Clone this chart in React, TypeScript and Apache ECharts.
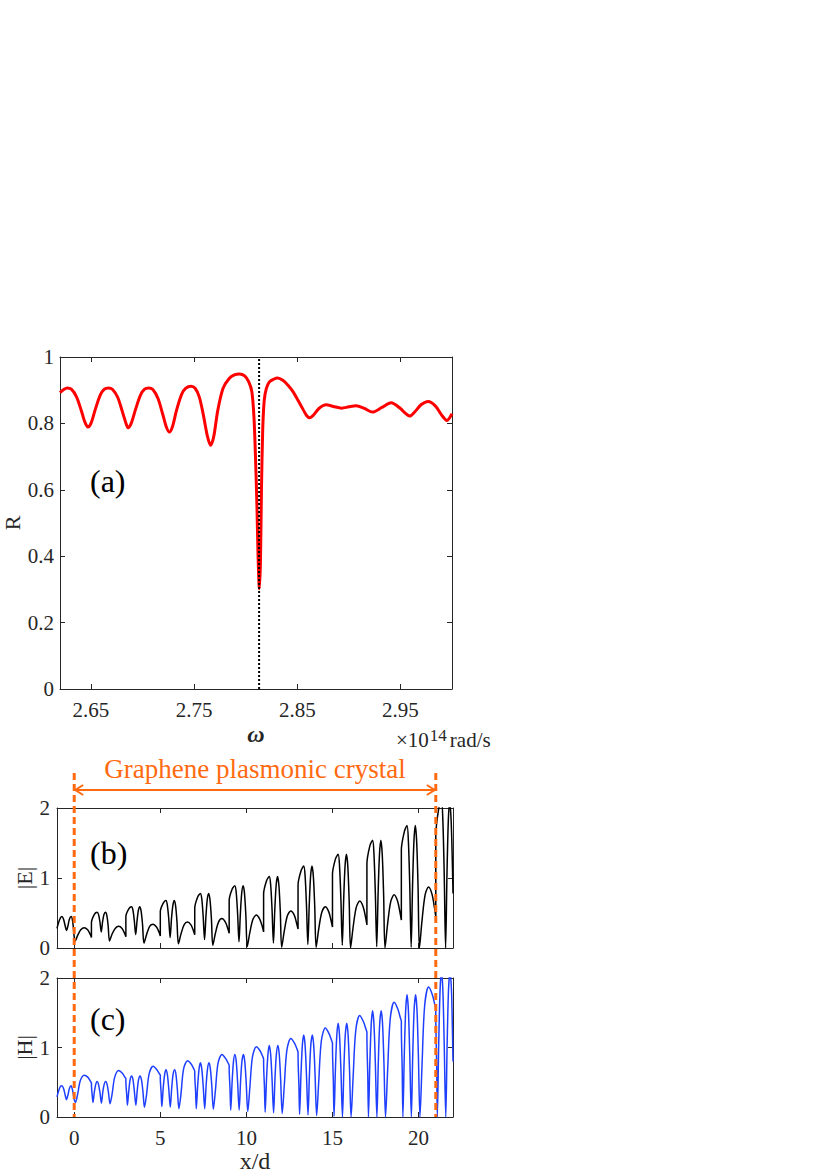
import React, { useEffect, useRef } from "react";
import * as echarts from "echarts";

// ---------- panel (a): reflectance spectrum ----------
const omegaTicks = [2.65, 2.75, 2.85, 2.95];
const rTicks = [0, 0.2, 0.4, 0.6, 0.8, 1];
const dipOmega = 2.813;
const rData: [number, number][] = [
  [2.62, 0.893], [2.624, 0.903], [2.627, 0.907], [2.631, 0.903], [2.636, 0.88], [2.641, 0.835],
  [2.644, 0.805], [2.647, 0.789], [2.65, 0.8], [2.654, 0.84], [2.659, 0.885], [2.663, 0.903],
  [2.667, 0.907], [2.671, 0.902], [2.676, 0.878], [2.681, 0.83], [2.684, 0.8], [2.686, 0.787],
  [2.689, 0.8], [2.693, 0.84], [2.698, 0.885], [2.702, 0.903], [2.706, 0.907], [2.71, 0.902],
  [2.715, 0.875], [2.72, 0.823], [2.723, 0.79], [2.726, 0.774], [2.729, 0.79], [2.733, 0.84],
  [2.738, 0.888], [2.742, 0.906], [2.747, 0.912], [2.751, 0.906], [2.755, 0.88], [2.759, 0.825],
  [2.763, 0.76], [2.766, 0.734], [2.769, 0.76], [2.773, 0.84], [2.778, 0.905], [2.784, 0.935],
  [2.789, 0.946], [2.794, 0.949], [2.799, 0.943], [2.803, 0.925], [2.806, 0.895], [2.808, 0.82],
  [2.8095, 0.7], [2.811, 0.54], [2.812, 0.4], [2.8133, 0.302], [2.8143, 0.38], [2.8153, 0.6],
  [2.8165, 0.78], [2.818, 0.87], [2.82, 0.905], [2.823, 0.925], [2.827, 0.933], [2.831, 0.937],
  [2.836, 0.93], [2.841, 0.915], [2.846, 0.895], [2.851, 0.868], [2.856, 0.84], [2.859, 0.824],
  [2.862, 0.817], [2.866, 0.826], [2.871, 0.845], [2.878, 0.856], [2.885, 0.851], [2.893, 0.846],
  [2.9, 0.85], [2.907, 0.853], [2.915, 0.845], [2.923, 0.834], [2.932, 0.848], [2.941, 0.862],
  [2.95, 0.845], [2.955, 0.83], [2.959, 0.822], [2.964, 0.835], [2.97, 0.856], [2.977, 0.866],
  [2.984, 0.852], [2.99, 0.825], [2.995, 0.809], [3.0, 0.829],
];

// ---------- panels (b), (c): field profiles ----------
const xTicks = [0, 5, 10, 15, 20];
const fieldTicks = [0, 1, 2];
const crystalStart = 0;
const crystalEnd = 21;

const eData: [number, number][] = [
  [-1, 0.28], [-0.9, 0.37], [-0.8, 0.43], [-0.72, 0.45], [-0.62, 0.41], [-0.52, 0.31], [-0.45, 0.25],
  [-0.37, 0.31], [-0.28, 0.41], [-0.18, 0.45], [-0.09, 0.38], [0, 0.16], [0.05, 0.1],
  [0.2, 0.18], [0.38, 0.26], [0.58, 0.29], [0.78, 0.26], [0.92, 0.2], [1.0, 0.15],
  [1.0, 0.36], [1.17, 0.48], [1.33, 0.51], [1.41, 0.48], [1.49, 0.38], [1.57, 0.23], [1.65, 0.38], [1.73, 0.48], [1.81, 0.51], [1.89, 0.47], [1.97, 0.32], [2.05, 0.1],
  [2.2, 0.2], [2.38, 0.28], [2.58, 0.31], [2.78, 0.28], [2.92, 0.21], [3.0, 0.16],
  [3.0, 0.45], [3.17, 0.56], [3.33, 0.59], [3.41, 0.54], [3.49, 0.39], [3.57, 0.19], [3.65, 0.39], [3.73, 0.54], [3.81, 0.59], [3.89, 0.52], [3.97, 0.33], [4.05, 0.07],
  [4.2, 0.19], [4.38, 0.31], [4.58, 0.34], [4.78, 0.3], [4.92, 0.23], [5.0, 0.17],
  [5.0, 0.52], [5.17, 0.64], [5.33, 0.68], [5.41, 0.61], [5.49, 0.42], [5.57, 0.15], [5.65, 0.42], [5.73, 0.61], [5.81, 0.68], [5.89, 0.6], [5.97, 0.37], [6.05, 0.06],
  [6.2, 0.2], [6.38, 0.33], [6.58, 0.37], [6.78, 0.33], [6.92, 0.25], [7.0, 0.19],
  [7.0, 0.57], [7.17, 0.73], [7.33, 0.78], [7.41, 0.7], [7.49, 0.45], [7.57, 0.12], [7.65, 0.45], [7.73, 0.7], [7.81, 0.78], [7.89, 0.68], [7.97, 0.41], [8.05, 0.04],
  [8.2, 0.21], [8.38, 0.37], [8.58, 0.42], [8.78, 0.37], [8.92, 0.28], [9.0, 0.21],
  [9.0, 0.68], [9.17, 0.84], [9.33, 0.89], [9.41, 0.79], [9.49, 0.49], [9.57, 0.09], [9.65, 0.49], [9.73, 0.79], [9.81, 0.89], [9.89, 0.78], [9.97, 0.46], [10.05, 0.02],
  [10.2, 0.22], [10.38, 0.41], [10.58, 0.47], [10.78, 0.41], [10.92, 0.31], [11.0, 0.23],
  [11.0, 0.77], [11.17, 0.96], [11.33, 1.02], [11.41, 0.9], [11.49, 0.55], [11.57, 0.07], [11.65, 0.55], [11.73, 0.9], [11.81, 1.02], [11.89, 0.89], [11.97, 0.52], [12.05, 0.01],
  [12.2, 0.24], [12.38, 0.46], [12.58, 0.53], [12.78, 0.47], [12.92, 0.35], [13.0, 0.27],
  [13.0, 0.9], [13.17, 1.1], [13.33, 1.17], [13.41, 1.03], [13.49, 0.61], [13.57, 0.05], [13.65, 0.61], [13.73, 1.03], [13.81, 1.17], [13.89, 1.02], [13.97, 0.59], [14.05, 0.01],
  [14.2, 0.27], [14.38, 0.51], [14.58, 0.59], [14.78, 0.52], [14.92, 0.39], [15.0, 0.3],
  [15.0, 1.05], [15.17, 1.27], [15.33, 1.34], [15.41, 1.17], [15.49, 0.69], [15.57, 0.04], [15.65, 0.69], [15.73, 1.17], [15.81, 1.34], [15.89, 1.17], [15.97, 0.67], [16.05, 0.0],
  [16.2, 0.3], [16.38, 0.58], [16.58, 0.67], [16.78, 0.59], [16.92, 0.44], [17.0, 0.33],
  [17.0, 1.2], [17.17, 1.46], [17.33, 1.54], [17.41, 1.34], [17.49, 0.78], [17.57, 0.02], [17.65, 0.78], [17.73, 1.34], [17.81, 1.54], [17.89, 1.34], [17.97, 0.77], [18.05, 0.0],
  [18.2, 0.34], [18.38, 0.66], [18.58, 0.76], [18.78, 0.67], [18.92, 0.51], [19.0, 0.4],
  [19.0, 1.4], [19.17, 1.66], [19.33, 1.75], [19.41, 1.52], [19.49, 0.88], [19.57, 0.01], [19.65, 0.88], [19.73, 1.52], [19.81, 1.75], [19.89, 1.52], [19.97, 0.88], [20.05, 0.0],
  [20.2, 0.39], [20.38, 0.76], [20.58, 0.87], [20.78, 0.77], [20.92, 0.58], [21.0, 0.45],
  [21.0, 1.6], [21.17, 1.99], [21.33, 2.1], [21.41, 1.83], [21.49, 1.05], [21.57, 0.0], [21.65, 1.05], [21.73, 1.83], [21.81, 2.1], [21.89, 1.83], [21.95, 1.35], [22.0, 0.78],
];

const hData: [number, number][] = [
  [-1, 0.29], [-0.9, 0.38], [-0.8, 0.44], [-0.72, 0.45], [-0.62, 0.41], [-0.52, 0.31], [-0.45, 0.25],
  [-0.37, 0.31], [-0.28, 0.41], [-0.18, 0.45], [-0.09, 0.38], [0, 0.25], [0.07, 0.21],
  [0.2, 0.33], [0.35, 0.52], [0.58, 0.6], [0.8, 0.57], [0.95, 0.51], [1.0, 0.49],
  [1.0, 0.46], [1.05, 0.3], [1.09, 0.21], [1.17, 0.36], [1.25, 0.47], [1.33, 0.51], [1.41, 0.47], [1.49, 0.36], [1.58, 0.2], [1.66, 0.36], [1.74, 0.47], [1.83, 0.51], [1.91, 0.47], [1.99, 0.35], [2.08, 0.19],
  [2.2, 0.33], [2.35, 0.57], [2.58, 0.67], [2.8, 0.63], [2.95, 0.57], [3.0, 0.55],
  [3.0, 0.51], [3.05, 0.32], [3.09, 0.17], [3.17, 0.38], [3.25, 0.54], [3.33, 0.59], [3.41, 0.54], [3.49, 0.38], [3.58, 0.17], [3.66, 0.38], [3.74, 0.54], [3.83, 0.59], [3.91, 0.53], [3.99, 0.37], [4.08, 0.14],
  [4.2, 0.32], [4.35, 0.62], [4.58, 0.73], [4.8, 0.68], [4.95, 0.62], [5.0, 0.6],
  [5.0, 0.56], [5.05, 0.34], [5.09, 0.15], [5.17, 0.42], [5.25, 0.61], [5.33, 0.68], [5.41, 0.61], [5.49, 0.41], [5.58, 0.14], [5.66, 0.41], [5.74, 0.61], [5.83, 0.68], [5.91, 0.61], [5.99, 0.4], [6.08, 0.12],
  [6.2, 0.33], [6.35, 0.69], [6.58, 0.81], [6.8, 0.76], [6.95, 0.69], [7.0, 0.66],
  [7.0, 0.62], [7.05, 0.37], [7.09, 0.12], [7.17, 0.45], [7.25, 0.69], [7.33, 0.78], [7.41, 0.69], [7.49, 0.45], [7.58, 0.12], [7.66, 0.45], [7.74, 0.69], [7.83, 0.78], [7.91, 0.69], [7.99, 0.45], [8.08, 0.11],
  [8.2, 0.38], [8.35, 0.77], [8.58, 0.9], [8.8, 0.84], [8.95, 0.77], [9.0, 0.74],
  [9.0, 0.7], [9.05, 0.4], [9.09, 0.1], [9.17, 0.5], [9.25, 0.8], [9.33, 0.9], [9.41, 0.8], [9.49, 0.5], [9.58, 0.1], [9.66, 0.5], [9.74, 0.8], [9.83, 0.9], [9.91, 0.79], [9.99, 0.49], [10.08, 0.08],
  [10.2, 0.42], [10.35, 0.86], [10.58, 1.01], [10.8, 0.95], [10.95, 0.87], [11.0, 0.83],
  [11.0, 0.78], [11.05, 0.42], [11.09, 0.07], [11.17, 0.55], [11.25, 0.9], [11.33, 1.03], [11.41, 0.9], [11.49, 0.55], [11.58, 0.06], [11.66, 0.55], [11.74, 0.9], [11.83, 1.03], [11.91, 0.9], [11.99, 0.54], [12.08, 0.05],
  [12.2, 0.45], [12.35, 0.96], [12.58, 1.13], [12.8, 1.06], [12.95, 0.97], [13.0, 0.93],
  [13.0, 0.88], [13.05, 0.46], [13.09, 0.04], [13.17, 0.61], [13.25, 1.03], [13.33, 1.18], [13.41, 1.03], [13.49, 0.6], [13.58, 0.03], [13.66, 0.6], [13.74, 1.03], [13.83, 1.18], [13.91, 1.03], [13.99, 0.6], [14.08, 0.02],
  [14.2, 0.5], [14.35, 1.09], [14.58, 1.28], [14.8, 1.2], [14.95, 1.1], [15.0, 1.06],
  [15.0, 1.0], [15.05, 0.52], [15.09, 0.01], [15.17, 0.68], [15.25, 1.17], [15.33, 1.35], [15.41, 1.17], [15.49, 0.68], [15.58, 0.0], [15.66, 0.68], [15.74, 1.17], [15.83, 1.35], [15.91, 1.17], [15.99, 0.68], [16.08, 0.0],
  [16.2, 0.58], [16.35, 1.24], [16.58, 1.46], [16.8, 1.37], [16.95, 1.26], [17.0, 1.22],
  [17.0, 1.15], [17.05, 0.6], [17.09, 0.0], [17.17, 0.77], [17.25, 1.33], [17.33, 1.53], [17.41, 1.33], [17.49, 0.77], [17.58, 0.0], [17.66, 0.77], [17.74, 1.33], [17.83, 1.53], [17.91, 1.33], [17.99, 0.77], [18.08, 0.0],
  [18.2, 0.65], [18.35, 1.4], [18.58, 1.65], [18.8, 1.55], [18.95, 1.42], [19.0, 1.38],
  [19.0, 1.3], [19.05, 0.68], [19.09, 0.0], [19.17, 0.88], [19.25, 1.53], [19.33, 1.76], [19.41, 1.53], [19.49, 0.88], [19.58, 0.0], [19.66, 0.88], [19.74, 1.53], [19.83, 1.76], [19.91, 1.53], [19.99, 0.88], [20.08, 0.0],
  [20.2, 0.74], [20.35, 1.59], [20.58, 1.87], [20.8, 1.76], [20.95, 1.61], [21.0, 1.56],
  [21.0, 1.47], [21.05, 0.77], [21.09, 0.0], [21.17, 1.05], [21.25, 1.83], [21.33, 2.1], [21.41, 1.83], [21.49, 1.05], [21.58, 0.0], [21.66, 1.05], [21.74, 1.83], [21.83, 2.1], [21.91, 1.83], [21.95, 1.45], [22.0, 0.8],
];

const FONT = "Liberation Serif";
const AXIS_COLOR = "#262626";
const ORANGE = "#ff6a10";

export default function App() {
  const ref = useRef<HTMLDivElement>(null);

  useEffect(() => {
    if (!ref.current) return;
    const chart = echarts.init(ref.current, null, { renderer: "svg" });

    const axisLine = { show: true, onZero: false, lineStyle: { color: AXIS_COLOR, width: 1 } };
    const tick = (vals?: number[]) => ({
      show: true,
      inside: true,
      length: 5,
      lineStyle: { color: AXIS_COLOR, width: 1 },
      ...(vals ? { customValues: vals } : {}),
    });
    const label = (vals: number[] | undefined, fmt: (v: number) => string, margin: number) => ({
      show: true,
      color: AXIS_COLOR,
      fontFamily: FONT,
      fontSize: 21,
      margin,
      formatter: fmt,
      hideOverlap: false,
      showMinLabel: true,
      showMaxLabel: true,
      ...(vals ? { customValues: vals } : {}),
    });
    const noLabel = { show: false };

    const xAxis: any[] = [
      {
        type: "value", gridIndex: 0, position: "bottom", min: 2.62, max: 3.0,
        axisLine, axisTick: tick(omegaTicks), splitLine: { show: false },
        axisLabel: label(omegaTicks, (v) => v.toFixed(2), 10),
        name: "ω", nameLocation: "middle", nameGap: 33,
        nameTextStyle: { fontFamily: FONT, fontSize: 24, fontStyle: "italic", fontWeight: "bold", color: AXIS_COLOR },
      },
      {
        type: "value", gridIndex: 0, position: "top", min: 2.62, max: 3.0,
        axisLine, axisTick: tick(omegaTicks), splitLine: { show: false }, axisLabel: noLabel,
      },
      {
        type: "value", gridIndex: 1, position: "bottom", min: -1, max: 22,
        axisLine, axisTick: tick(xTicks), splitLine: { show: false }, axisLabel: noLabel,
      },
      {
        type: "value", gridIndex: 1, position: "top", min: -1, max: 22,
        axisLine, axisTick: tick(xTicks), splitLine: { show: false }, axisLabel: noLabel,
      },
      {
        type: "value", gridIndex: 2, position: "bottom", min: -1, max: 22,
        axisLine, axisTick: tick(xTicks), splitLine: { show: false },
        axisLabel: label(xTicks, (v) => String(v), 10),
        name: "x/d", nameLocation: "middle", nameGap: 32,
        nameTextStyle: { fontFamily: FONT, fontSize: 24, color: AXIS_COLOR },
      },
      {
        type: "value", gridIndex: 2, position: "top", min: -1, max: 22,
        axisLine, axisTick: tick(xTicks), splitLine: { show: false }, axisLabel: noLabel,
      },
    ];

    const yAxis: any[] = [
      {
        type: "value", gridIndex: 0, position: "left", min: 0, max: 1, interval: 0.2,
        axisLine, axisTick: tick(), splitLine: { show: false },
        axisLabel: label(rTicks, (v) => String(Math.round(v * 10) / 10), 6),
        name: "R", nameLocation: "middle", nameGap: 37, nameRotate: 90,
        nameTextStyle: { fontFamily: FONT, fontSize: 22, color: AXIS_COLOR },
      },
      {
        type: "value", gridIndex: 0, position: "right", min: 0, max: 1, interval: 0.2,
        axisLine, axisTick: tick(), splitLine: { show: false }, axisLabel: noLabel,
      },
      {
        type: "value", gridIndex: 1, position: "left", min: 0, max: 2, interval: 1,
        axisLine, axisTick: tick(), splitLine: { show: false },
        axisLabel: label(fieldTicks, (v) => String(v), 7),
        name: "|E|", nameLocation: "middle", nameGap: 22, nameRotate: 90,
        nameTextStyle: { fontFamily: FONT, fontSize: 22, color: AXIS_COLOR },
      },
      {
        type: "value", gridIndex: 1, position: "right", min: 0, max: 2, interval: 1,
        axisLine, axisTick: tick(), splitLine: { show: false }, axisLabel: noLabel,
      },
      {
        type: "value", gridIndex: 2, position: "left", min: 0, max: 2, interval: 1,
        axisLine, axisTick: tick(), splitLine: { show: false },
        axisLabel: label(fieldTicks, (v) => String(v), 7),
        name: "|H|", nameLocation: "middle", nameGap: 22, nameRotate: 90,
        nameTextStyle: { fontFamily: FONT, fontSize: 22, color: AXIS_COLOR },
      },
      {
        type: "value", gridIndex: 2, position: "right", min: 0, max: 2, interval: 1,
        axisLine, axisTick: tick(), splitLine: { show: false }, axisLabel: noLabel,
      },
    ];

    chart.setOption({
      animation: false,
      backgroundColor: "#ffffff",
      textStyle: { fontFamily: FONT, color: AXIS_COLOR },
      grid: [
        { left: 58, top: 357, width: 394, height: 332 },
        { left: 57, top: 808, width: 396, height: 140 },
        { left: 57, top: 978, width: 396, height: 140 },
      ],
      xAxis,
      yAxis,
      series: [
        {
          type: "line", xAxisIndex: 0, yAxisIndex: 0, data: rData, showSymbol: false, smooth: 0.3,
          lineStyle: { color: "#ff0000", width: 3 }, clip: true, z: 2,
        },
        {
          type: "line", xAxisIndex: 0, yAxisIndex: 0, data: [[dipOmega, 0], [dipOmega, 1]], showSymbol: false,
          lineStyle: { color: "#000000", type: [2, 2], width: 2 }, z: 3,
        },
        {
          type: "line", xAxisIndex: 2, yAxisIndex: 2, data: eData, showSymbol: false, smooth: 0.3,
          lineStyle: { color: "#000000", width: 1.5 }, clip: true,
        },
        {
          type: "line", xAxisIndex: 4, yAxisIndex: 4, data: hData, showSymbol: false, smooth: 0.3,
          lineStyle: { color: "#1f3fff", width: 1.5 }, clip: true,
        },
      ],
    });

    const px0 = chart.convertToPixel({ xAxisIndex: 2 }, crystalStart) as number;
    const px1 = chart.convertToPixel({ xAxisIndex: 2 }, crystalEnd) as number;
    const yBottom = chart.convertToPixel({ yAxisIndex: 4 }, 0) as number;
    const lineTop = 773;
    const arrowY = 790;

    chart.setOption({
      graphic: [
        { type: "text", x: 90, y: 481, style: { text: "(a)", fontFamily: FONT, fontSize: 32, fill: "#000", verticalAlign: "middle" } },
        { type: "text", x: 90, y: 853, style: { text: "(b)", fontFamily: FONT, fontSize: 32, fill: "#000", verticalAlign: "middle" } },
        { type: "text", x: 90, y: 1019, style: { text: "(c)", fontFamily: FONT, fontSize: 32, fill: "#000", verticalAlign: "middle" } },
        {
          type: "text", x: 396, y: 740,
          style: {
            text: "×10{s|14}rad/s", fontFamily: FONT, fontSize: 21, fill: AXIS_COLOR, verticalAlign: "middle",
            rich: { s: { fontFamily: FONT, fontSize: 17, fill: AXIS_COLOR, verticalAlign: "top", padding: [0, 3, 10, 1] } },
          },
        },
        {
          type: "text", x: (px0 + px1) / 2, y: 769,
          style: { text: "Graphene plasmonic crystal", fontFamily: FONT, fontSize: 27, fill: ORANGE, align: "center", verticalAlign: "middle" },
        },
        { type: "line", z: 100, shape: { x1: px0, y1: lineTop, x2: px0, y2: yBottom }, style: { stroke: ORANGE, lineWidth: 3, lineDash: [7, 4] } },
        { type: "line", z: 100, shape: { x1: px1, y1: lineTop, x2: px1, y2: yBottom }, style: { stroke: ORANGE, lineWidth: 3, lineDash: [7, 4] } },
        { type: "line", z: 100, shape: { x1: px0 + 1, y1: arrowY, x2: px1 - 1, y2: arrowY }, style: { stroke: ORANGE, lineWidth: 2 } },
        { type: "polyline", z: 100, shape: { points: [[px0 + 9, arrowY - 5], [px0 + 1, arrowY], [px0 + 9, arrowY + 5]] }, style: { stroke: ORANGE, lineWidth: 2, fill: "none" } },
        { type: "polyline", z: 100, shape: { points: [[px1 - 9, arrowY - 5], [px1 - 1, arrowY], [px1 - 9, arrowY + 5]] }, style: { stroke: ORANGE, lineWidth: 2, fill: "none" } },
      ],
    });

    return () => chart.dispose();
  }, []);

  return (
    <div
      ref={ref}
      style={{ position: "absolute", left: 0, top: 0, width: 830, height: 1174, background: "#ffffff" }}
    />
  );
}
